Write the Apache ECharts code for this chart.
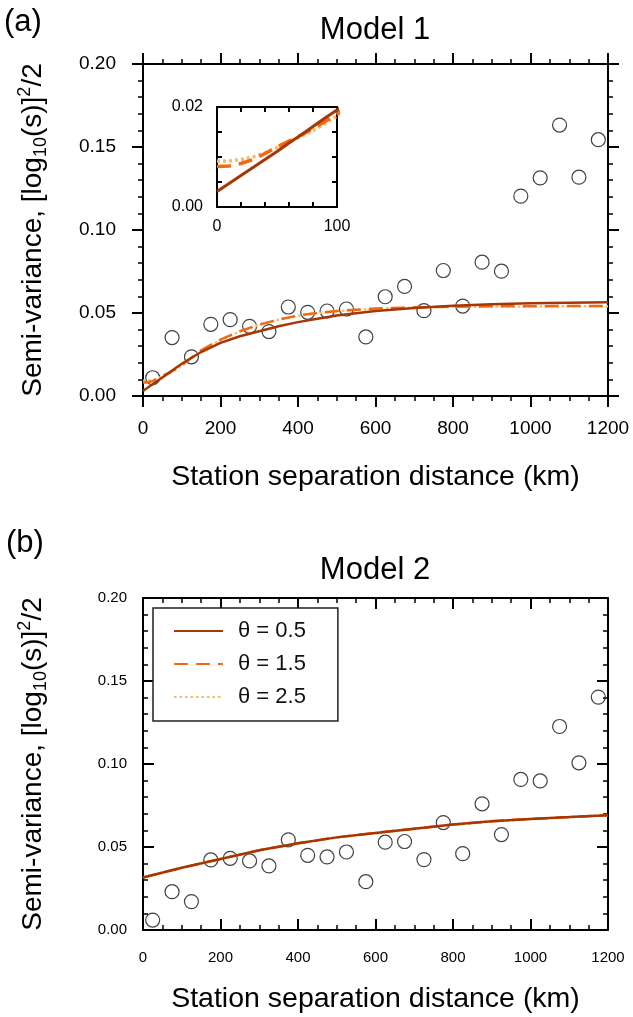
<!DOCTYPE html>
<html>
<head>
<meta charset="utf-8">
<script src="https://cdn.jsdelivr.net/npm/echarts@6/dist/echarts.min.js"></script>
<style>
  html, body { margin: 0; padding: 0; background: #fff; }
  #main { width: 633px; height: 1017px; }
</style>
</head>
<body>
<div id="main"></div>
<script>
// observed semi-variance, binned by station separation (km)
const binKm = [25, 75, 125, 175, 225, 275, 325, 375, 425, 475, 525, 575,
               625, 675, 725, 775, 825, 875, 925, 975, 1025, 1075, 1125, 1175];
const semivarModel1 = [0.0110, 0.0352, 0.0236, 0.0432, 0.0460, 0.0420, 0.0388, 0.0536,
                       0.0504, 0.0512, 0.0524, 0.0356, 0.0598, 0.0660, 0.0514, 0.0756,
                       0.0542, 0.0806, 0.0752, 0.1204, 0.1314, 0.1632, 0.1318, 0.1544];
const semivarModel2 = [0.0060, 0.0231, 0.0171, 0.0422, 0.0432, 0.0416, 0.0386, 0.0543,
                       0.0450, 0.0440, 0.0470, 0.0291, 0.0529, 0.0533, 0.0424, 0.0647,
                       0.0460, 0.0760, 0.0575, 0.0907, 0.0898, 0.1226, 0.1007, 0.1403];

// fitted variogram curves, model 1
const curveKm1 = [0, 10, 20, 30, 40, 50, 60, 70, 80, 90, 100, 150, 200, 250, 300,
                  350, 400, 450, 500, 600, 700, 800, 900, 1000, 1100, 1200];
const fit1Theta05 = [0.0031, 0.0047, 0.0063, 0.0079, 0.0095, 0.0111, 0.0128, 0.0144, 0.0161,
                     0.0178, 0.0194, 0.0265, 0.0320, 0.0360, 0.0390, 0.0420, 0.0445, 0.0465,
                     0.0485, 0.0512, 0.0530, 0.0543, 0.0552, 0.0558, 0.0562, 0.0565];
const fit1Theta15 = [0.0081, 0.0082, 0.0087, 0.0095, 0.0107, 0.0120, 0.0132, 0.0144, 0.0157,
                     0.0171, 0.0186, 0.0275, 0.0340, 0.0390, 0.0430, 0.0460, 0.0485, 0.0500,
                     0.0512, 0.0527, 0.0534, 0.0538, 0.0540, 0.0541, 0.0542, 0.0542];
const fit1Theta25 = [0.0092, 0.0092, 0.0095, 0.0100, 0.0108, 0.0119, 0.0131, 0.0141, 0.0153,
                     0.0167, 0.0182, 0.0272, 0.0338, 0.0389, 0.0429, 0.0459, 0.0484, 0.0499,
                     0.0511, 0.0526, 0.0533, 0.0537, 0.0539, 0.0540, 0.0541, 0.0541];

// model 2: the three theta curves overlap
const curveKm2 = [0, 100, 200, 300, 400, 500, 600, 700, 800, 900, 1000, 1100, 1200];
const fit2 = [0.0316, 0.0375, 0.0428, 0.0480, 0.0522, 0.0558, 0.0585, 0.0610,
              0.0635, 0.0655, 0.0669, 0.0680, 0.0692];

const thetaNames = ['θ = 0.5', 'θ = 1.5', 'θ = 2.5'];

const FONT = 'Liberation Sans, Arial, Helvetica, sans-serif';
const C_SOLID = '#a63603', C_DASH = '#f16913', C_DOT = '#fdb863';

const pairs = (xs, ys) => xs.map((x, i) => [x, ys[i]]);

const yTitle = '{a|Semi-variance, [log}{b|10}{a|(s)]}{c|2}{a|/2}';
const yTitleStyle = {
    color: '#000', fontFamily: FONT, fontSize: 28,
    rich: {
        a: { fontSize: 28, fontFamily: FONT, lineHeight: 34 },
        b: { fontSize: 18, fontFamily: FONT, lineHeight: 18, verticalAlign: 'bottom' },
        c: { fontSize: 18, fontFamily: FONT, lineHeight: 18, verticalAlign: 'top' }
    }
};
const xTitleStyle = { color: '#000', fontFamily: FONT, fontSize: 28.5 };

function valAxis(o) {
    // shared axis look: black frame, ticks, no grid lines
    return Object.assign({
        type: 'value',
        axisLine: { show: true, onZero: false, lineStyle: { color: '#000', width: 2 } },
        axisTick: { show: true, inside: o.inside, length: o.tick || 11, lineStyle: { color: '#000', width: 2 } },
        minorTick: { show: o.minor !== undefined, splitNumber: o.minor || 5, length: 5, lineStyle: { color: '#000', width: 1.5 } },
        splitLine: { show: false },
        axisLabel: o.label ? Object.assign({ color: '#000', fontFamily: FONT }, o.label) : { show: false }
    }, o.axis);
}

function lineSeries(name, data, xi, yi, color, type, width) {
    return {
        name: name, type: 'line', data: data, xAxisIndex: xi, yAxisIndex: yi,
        symbol: 'none', smooth: false, clip: true,
        lineStyle: { color: color, width: width, type: type },
        itemStyle: { color: color }
    };
}

function scatterSeries(data, xi, yi) {
    return {
        name: 'obs', type: 'scatter', data: data, xAxisIndex: xi, yAxisIndex: yi,
        symbol: 'circle', symbolSize: 14, z: 1,
        itemStyle: { color: 'rgba(0,0,0,0)', borderColor: '#111', borderWidth: 1.2 }
    };
}

const fmt2 = v => v.toFixed(2);
const fmtKm = v => String(v);

const chart = echarts.init(document.getElementById('main'), null, { renderer: 'canvas' });
chart.setOption({
    animation: false,
    backgroundColor: '#fff',
    grid: [
        { left: 143, top: 64, width: 465, height: 332 },
        { left: 217, top: 107, width: 120, height: 100 },
        { left: 143, top: 598, width: 465, height: 332 }
    ],
    xAxis: [
        valAxis({ inside: false, minor: 4, label: { fontSize: 19, margin: 23, formatter: fmtKm },
            axis: { gridIndex: 0, position: 'bottom', min: 0, max: 1200, interval: 200,
                name: 'Station separation distance (km)', nameLocation: 'middle', nameGap: 67,
                nameTextStyle: xTitleStyle } }),
        valAxis({ inside: false, minor: 4,
            axis: { gridIndex: 0, position: 'top', min: 0, max: 1200, interval: 200 } }),
        valAxis({ inside: true, tick: 5, label: { fontSize: 16, margin: 12,
                formatter: v => (v === 0 || v === 100) ? String(v) : '' },
            axis: { gridIndex: 1, position: 'bottom', min: 0, max: 100, interval: 20 } }),
        valAxis({ inside: true, tick: 5,
            axis: { gridIndex: 1, position: 'top', min: 0, max: 100, interval: 20 } }),
        valAxis({ inside: true, minor: 4, label: { fontSize: 15, margin: 20, formatter: fmtKm },
            axis: { gridIndex: 2, position: 'bottom', min: 0, max: 1200, interval: 200,
                name: 'Station separation distance (km)', nameLocation: 'middle', nameGap: 55,
                nameTextStyle: xTitleStyle } }),
        valAxis({ inside: true, minor: 4,
            axis: { gridIndex: 2, position: 'top', min: 0, max: 1200, interval: 200 } })
    ],
    yAxis: [
        valAxis({ inside: false, minor: 5, label: { fontSize: 19, margin: 27, formatter: fmt2 },
            axis: { gridIndex: 0, position: 'left', min: 0, max: 0.2, interval: 0.05,
                name: yTitle, nameLocation: 'middle', nameGap: 93, nameTextStyle: yTitleStyle } }),
        valAxis({ inside: false, minor: 5,
            axis: { gridIndex: 0, position: 'right', min: 0, max: 0.2, interval: 0.05 } }),
        valAxis({ inside: true, tick: 5, label: { fontSize: 16, margin: 14,
                formatter: v => (Math.abs(v) < 1e-9 || Math.abs(v - 0.02) < 1e-9) ? fmt2(v) : '' },
            axis: { gridIndex: 1, position: 'left', min: 0, max: 0.02, interval: 0.005 } }),
        valAxis({ inside: true, tick: 5,
            axis: { gridIndex: 1, position: 'right', min: 0, max: 0.02, interval: 0.005 } }),
        valAxis({ inside: true, minor: 5, label: { fontSize: 15, margin: 16, formatter: fmt2 },
            axis: { gridIndex: 2, position: 'left', min: 0, max: 0.2, interval: 0.05,
                name: yTitle, nameLocation: 'middle', nameGap: 93, nameTextStyle: yTitleStyle } }),
        valAxis({ inside: true, minor: 5,
            axis: { gridIndex: 2, position: 'right', min: 0, max: 0.2, interval: 0.05 } })
    ],
    legend: {
        data: thetaNames, orient: 'vertical', left: 153, top: 608,
        itemWidth: 49, itemHeight: 14, itemGap: 11,
        padding: [12, 32, 13, 20],
        borderColor: '#222', borderWidth: 1.5, backgroundColor: '#fff',
        selectedMode: false,
        itemStyle: { opacity: 0 },
        textStyle: { color: '#111', fontFamily: FONT, fontSize: 22, padding: [0, 0, 0, 10] }
    },
    graphic: [
        { type: 'text', x: 4, y: 22, style: { text: '(a)', fontSize: 31, fontFamily: FONT, fill: '#000', align: 'left', verticalAlign: 'middle' } },
        { type: 'text', x: 375, y: 30, style: { text: 'Model 1', fontSize: 31, fontFamily: FONT, fill: '#000', align: 'center', verticalAlign: 'middle' } },
        { type: 'text', x: 6, y: 543, style: { text: '(b)', fontSize: 31, fontFamily: FONT, fill: '#000', align: 'left', verticalAlign: 'middle' } },
        { type: 'text', x: 375, y: 570, style: { text: 'Model 2', fontSize: 31, fontFamily: FONT, fill: '#000', align: 'center', verticalAlign: 'middle' } }
    ],
    series: [
        scatterSeries(pairs(binKm, semivarModel1), 0, 0),
        lineSeries(thetaNames[2], pairs(curveKm1, fit1Theta25), 0, 0, C_DOT, [2.5, 3], 2.5),
        lineSeries(thetaNames[1], pairs(curveKm1, fit1Theta15), 0, 0, C_DASH, [14, 8], 2.5),
        lineSeries(thetaNames[0], pairs(curveKm1, fit1Theta05), 0, 0, C_SOLID, 'solid', 2.5),
        // inset: zoom on the first 100 km
        lineSeries(thetaNames[2], pairs(curveKm1, fit1Theta25), 2, 2, C_DOT, [3, 3], 3.5),
        lineSeries(thetaNames[1], pairs(curveKm1, fit1Theta15), 2, 2, C_DASH, [14, 8], 3.5),
        lineSeries(thetaNames[0], pairs(curveKm1, fit1Theta05), 2, 2, C_SOLID, 'solid', 3),
        scatterSeries(pairs(binKm, semivarModel2), 4, 4),
        lineSeries(thetaNames[2], pairs(curveKm2, fit2), 4, 4, C_DOT, [2.5, 3], 2.5),
        lineSeries(thetaNames[1], pairs(curveKm2, fit2), 4, 4, C_DASH, [14, 8], 2.5),
        lineSeries(thetaNames[0], pairs(curveKm2, fit2), 4, 4, C_SOLID, 'solid', 2.5)
    ]
});
</script>
</body>
</html>
